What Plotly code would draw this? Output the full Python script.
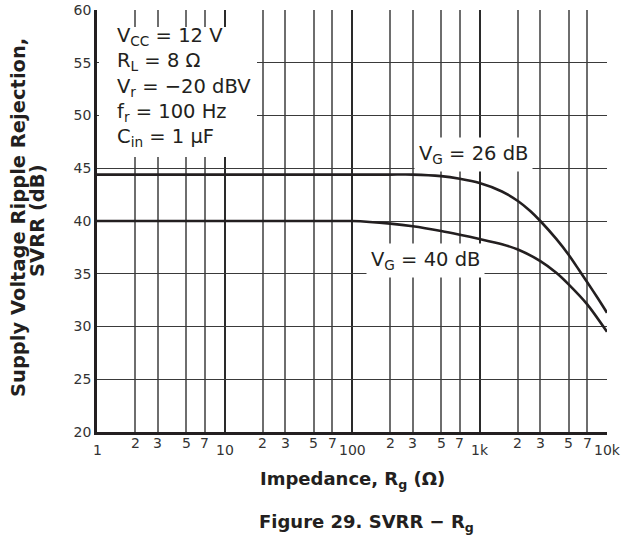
import numpy as np
import plotly.graph_objects as go

# ---- data ----
rg_26 = [1, 2, 3, 5, 7, 10, 20, 30, 50, 70, 100, 200, 300, 500, 700,
         1000, 1500, 2000, 2500, 3000, 4000, 5000, 6000, 7000, 8500, 10000]
svrr_vg26 = [44.4, 44.4, 44.4, 44.4, 44.4, 44.4, 44.4, 44.4, 44.4, 44.4, 44.4, 44.4, 44.4,
             44.25, 44.0, 43.6, 42.8, 41.9, 40.95, 40.0, 38.3, 36.8, 35.4, 34.2, 32.65, 31.3]

rg_40 = [1, 2, 3, 5, 7, 10, 20, 30, 50, 70, 100, 200, 300, 500, 700,
         1000, 1500, 2000, 3000, 4000, 5000, 7000, 10000]
svrr_vg40 = [40.0, 40.0, 40.0, 40.0, 40.0, 40.0, 40.0, 40.0, 40.0, 40.0, 40.0, 39.75, 39.5,
             39.05, 38.7, 38.3, 37.8, 37.3, 36.2, 35.1, 34.0, 32.1, 29.5]

decade_vals = [1, 10, 100, 1000, 10000]
decade_text = ["1", "10", "100", "1k", "10k"]
minor_vals = [2, 3, 5, 7, 20, 30, 50, 70, 200, 300, 500, 700, 2000, 3000, 5000, 7000]
minor_text = ["2", "3", "5", "7"] * 4
y_ticks = [20, 25, 30, 35, 40, 45, 50, 55, 60]

W, H = 632, 544
L, R, T, B = 97, 25, 10, 112
PW, PH = W - L - R, H - T - B

FONT = "DejaVu Sans, Verdana, sans-serif"
INK = "#231f20"

fig = go.Figure()
for xs, ys in ((rg_26, svrr_vg26), (rg_40, svrr_vg40)):
    fig.add_trace(go.Scatter(x=xs, y=ys, mode="lines",
                             line=dict(color=INK, width=2.6, shape="spline", smoothing=0.7),
                             hoverinfo="skip", showlegend=False))

annotations = []
# x tick labels (minor raised, decades lowered)
for v, t in zip(minor_vals, minor_text):
    annotations.append(dict(x=np.log10(v), y=0, xref="x", yref="paper", text=t,
                            showarrow=False, xanchor="center", yanchor="middle",
                            yshift=-11, font=dict(family=FONT, size=14, color="#333")))
for v, t in zip(decade_vals, decade_text):
    annotations.append(dict(x=np.log10(v), y=0, xref="x", yref="paper", text=t,
                            showarrow=False, xanchor="center", yanchor="middle",
                            yshift=-18, font=dict(family=FONT, size=14, color="#333")))

# conditions box text
annotations.append(dict(
    x=18 / PW, y=1 - 12 / PH, xref="paper", yref="paper",
    xanchor="left", yanchor="top", align="left", showarrow=False,
    text="V<sub>CC</sub> = 12 V<br>R<sub>L</sub> = 8 Ω<br>V<sub>r</sub> = −20 dBV<br>"
         "f<sub>r</sub> = 100 Hz<br>C<sub>in</sub> = 1 µF",
    font=dict(family=FONT, size=19.5, color=INK)))

# curve labels
annotations.append(dict(x=np.log10(890), y=46.3, xref="x", yref="y",
                        text="V<sub>G</sub> = 26 dB", showarrow=False,
                        bgcolor="white", borderpad=4,
                        font=dict(family=FONT, size=19.5, color=INK)))
annotations.append(dict(x=np.log10(374), y=36.25, xref="x", yref="y",
                        text="V<sub>G</sub> = 40 dB", showarrow=False,
                        bgcolor="white", borderpad=4,
                        font=dict(family=FONT, size=19.5, color=INK)))

# axis titles
annotations.append(dict(x=0, y=0.507, xref="paper", yref="paper", xshift=-79,
                        text="<b>Supply Voltage Ripple Rejection,</b>",
                        textangle=-90, showarrow=False, xanchor="center", yanchor="middle",
                        font=dict(family=FONT, size=19.5, color=INK)))
annotations.append(dict(x=0, y=0.5, xref="paper", yref="paper", xshift=-60,
                        text="<b>SVRR (dB)</b>",
                        textangle=-90, showarrow=False, xanchor="center", yanchor="middle",
                        font=dict(family=FONT, size=19.5, color=INK)))
annotations.append(dict(x=0.5, y=0, xref="paper", yref="paper", yshift=-48,
                        text="<b>Impedance, R<sub>g</sub> (Ω)</b>", showarrow=False,
                        xanchor="center", yanchor="middle",
                        font=dict(family=FONT, size=18, color=INK)))
annotations.append(dict(x=(366 - L) / PW, y=0, xref="paper", yref="paper", yshift=-91,
                        text="<b>Figure 29. SVRR − R<sub>g</sub></b>", showarrow=False,
                        xanchor="center", yanchor="middle",
                        font=dict(family=FONT, size=18, color=INK)))

shapes = [dict(type="rect", xref="paper", yref="paper",
               x0=2 / PW, x1=160 / PW, y0=1 - 147 / PH, y1=1 - 17 / PH,
               fillcolor="white", line=dict(width=0), layer="above")]

fig.update_layout(
    width=W, height=H, autosize=False,
    margin=dict(l=L, r=R, t=T, b=B, pad=0),
    paper_bgcolor="white", plot_bgcolor="white",
    font=dict(family=FONT, color=INK),
    hovermode=False,
    annotations=annotations, shapes=shapes,
    xaxis=dict(type="log", range=[0, 4], tickmode="array", tickvals=decade_vals,
               showticklabels=False, ticks="", showgrid=True, gridcolor="#2a2a2a",
               gridwidth=1.5, showline=True, linecolor=INK, linewidth=2.5,
               zeroline=False, automargin=False,
               minor=dict(tickmode="array", tickvals=minor_vals, showgrid=True,
                          gridcolor="#6e6e6e", gridwidth=1.5, ticks="")),
    yaxis=dict(range=[20, 60], tickmode="array", tickvals=y_ticks,
               ticks="", showgrid=True, gridcolor="#3a3a3a", gridwidth=1.2,
               showline=True, linecolor=INK, linewidth=2.5, zeroline=False,
               automargin=False, ticklabeloverflow="allow",
               tickfont=dict(family=FONT, size=14, color="#333")),
)

fig.write_html("out.html", config={"displayModeBar": False},
               post_script="document.body.style.margin='0px';")
